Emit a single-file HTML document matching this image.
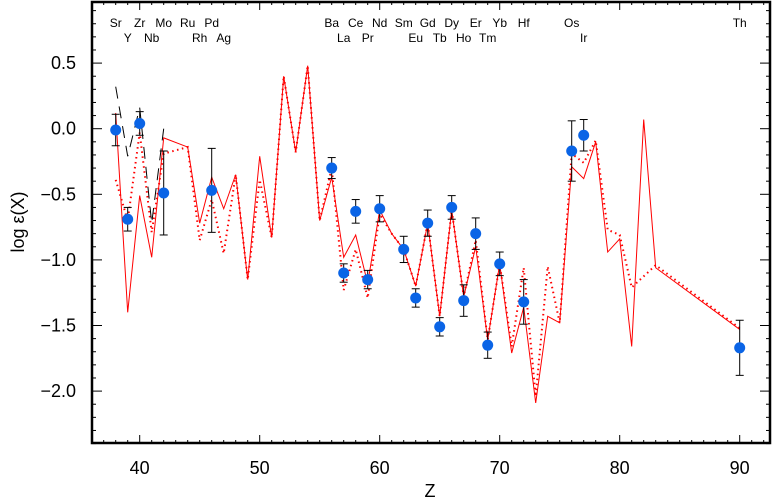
<!DOCTYPE html>
<html><head><meta charset="utf-8"><style>
html,body{margin:0;padding:0;background:#fff;}
svg{display:block;font-family:"Liberation Sans",sans-serif;}
</style></head><body>
<svg id="chart" width="773" height="500" viewBox="0 0 773 500" xmlns="http://www.w3.org/2000/svg"></svg>
<script>
const obsZ=[38,39,40,42,46,56,57,58,59,60,62,63,64,65,66,67,68,69,70,72,76,77,90];
const obsV=[-0.01,-0.69,0.04,-0.49,-0.47,-0.30,-1.10,-0.63,-1.15,-0.61,-0.92,-1.29,-0.72,-1.51,-0.60,-1.31,-0.80,-1.65,-1.03,-1.32,-0.17,-0.05,-1.67];
const obsErr=[0.12,0.09,0.09,0.32,0.32,0.08,0.07,0.09,0.07,0.10,0.10,0.07,0.10,0.07,0.09,0.12,0.12,0.10,0.09,0.17,0.23,0.12,0.21];
const solidZ=[38,39,40,41,42,44,45,46,47,48,49,50,51,52,53,54,55,56,57,58,59,60,61,62,63,64,65,66,67,68,69,70,71,72,73,74,75,76,77,78,79,80,81,82,83,90];
const solidV=[0.12,-1.40,-0.51,-0.98,-0.07,-0.14,-0.72,-0.37,-0.61,-0.35,-1.15,-0.21,-0.83,0.40,-0.18,0.48,-0.70,-0.37,-0.98,-0.81,-1.18,-0.62,-0.80,-0.92,-1.20,-0.72,-1.43,-0.62,-1.28,-0.90,-1.61,-1.03,-1.71,-1.36,-2.09,-1.43,-1.48,-0.29,-0.38,-0.10,-0.94,-0.84,-1.66,0.07,-1.06,-1.53];
const dotZ=[38,39,40,41,42,44,45,46,47,48,49,50,51,52,53,54,55,56,57,58,59,60,61,62,63,64,65,66,67,68,69,70,71,72,73,74,75,76,77,78,79,80,81,83,90];
const dotV=[-0.39,-0.70,-0.03,-0.79,-0.19,-0.14,-0.85,-0.54,-0.95,-0.35,-1.15,-0.39,-0.83,0.40,-0.18,0.48,-0.70,-0.30,-1.23,-0.92,-1.29,-0.65,-0.80,-0.92,-1.20,-0.72,-1.43,-0.62,-1.28,-0.85,-1.61,-1.03,-1.66,-1.06,-2.04,-1.05,-1.48,-0.19,-0.26,-0.09,-0.77,-0.81,-1.21,-1.04,-1.52];
const dashZ=[38,39,40,41,42];
const dashV=[0.32,-0.21,0.16,-0.72,0.0];
const xTicks=[40,50,60,70,80,90];
const yTicks=[0.5,0.0,-0.5,-1.0,-1.5,-2.0];
const yTickLabels=["0.5","0.0","\u22120.5","\u22121.0","\u22121.5","\u22122.0"];
const elemRow1=[["Sr",38],["Zr",40],["Mo",42],["Ru",44],["Pd",46],["Ba",56],["Ce",58],["Nd",60],["Sm",62],["Gd",64],["Dy",66],["Er",68],["Yb",70],["Hf",72],["Os",76],["Th",90]];
const elemRow2=[["Y",39],["Nb",41],["Rh",45],["Ag",47],["La",57],["Pr",59],["Eu",63],["Tb",65],["Ho",67],["Tm",69],["Ir",77]];

const L=92,R=770,T=2,B=443;
const x=z=>139.7+12*(z-40);
const y=v=>128.7-131.2*v;
const svg=document.getElementById('chart');
const NS='http://www.w3.org/2000/svg';
function mk(tag,attrs,parent){const e=document.createElementNS(NS,tag);for(const k in attrs)e.setAttribute(k,attrs[k]);(parent||svg).appendChild(e);return e;}

const ticks=mk('g',{});


for(let z=37;z<=92;z++){const len=(z%10===0)?8:3;
 mk('line',{x1:x(z),x2:x(z),y1:B,y2:B-len,stroke:'#000','stroke-width':1},ticks);
 mk('line',{x1:x(z),x2:x(z),y1:T,y2:T+len,stroke:'#000','stroke-width':1},ticks);}
for(let i=-24;i<=9;i++){const v=i/10;const len=(i%5===0)?10:4;
 mk('line',{x1:L,x2:L+len,y1:y(v),y2:y(v),stroke:'#000','stroke-width':1},ticks);
 mk('line',{x1:R,x2:R-len,y1:y(v),y2:y(v),stroke:'#000','stroke-width':1},ticks);}
xTicks.forEach(t=>{const e=mk('text',{x:x(t),y:474,'font-size':18,'text-anchor':'middle'});e.textContent=t;
 
 });
yTicks.forEach((t,i)=>{const e=mk('text',{x:76,y:y(t)+6,'font-size':18,'text-anchor':'end'});e.textContent=yTickLabels[i];
 
 });
const xt=mk('text',{x:430,y:497,'font-size':18,'text-anchor':'middle'});xt.textContent='Z';


const yt=mk('text',{x:0,y:0,'font-size':18,'text-anchor':'middle',transform:'translate(24,222) rotate(-90)'});yt.textContent='log \u03b5(X)';



elemRow1.forEach(([s,z])=>{const e=mk('text',{x:x(z),y:27,'font-size':12,'text-anchor':'middle'});e.textContent=s;
 
 });
elemRow2.forEach(([s,z])=>{const e=mk('text',{x:x(z),y:42,'font-size':12,'text-anchor':'middle'});e.textContent=s;
 
 });

function pts(Z,V){return Z.map((z,i)=>x(z)+','+y(V[i])).join(' ');}
const sl=mk('polyline',{points:pts(solidZ,solidV),fill:'none',stroke:'#f00','stroke-width':1});


const dl=mk('polyline',{points:pts(dotZ,dotV),fill:'none',stroke:'#f00','stroke-width':2,'stroke-dasharray':'1.5 3.5'});


const kl=mk('polyline',{points:pts(dashZ,dashV),fill:'none',stroke:'#000','stroke-width':1,'stroke-dasharray':'12 8'});



obsZ.forEach((z,i)=>{const g=mk('g',{});
 
 
 const cx=x(z),y1=y(obsV[i]+obsErr[i]),y2=y(obsV[i]-obsErr[i]);
 mk('line',{x1:cx,x2:cx,y1:y1,y2:y2,stroke:'#000','stroke-width':1},g);
 mk('line',{x1:cx-4,x2:cx+4,y1:y1,y2:y1,stroke:'#000','stroke-width':1},g);
 mk('line',{x1:cx-4,x2:cx+4,y1:y2,y2:y2,stroke:'#000','stroke-width':1},g);
 mk('circle',{cx:cx,cy:y(obsV[i]),r:5.5,fill:'#0a64e6'},g);});

const fr=mk('rect',{x:L,y:T,width:R-L,height:B-T,fill:'none',stroke:'#000','stroke-width':2.5});


</script>
</body></html>
